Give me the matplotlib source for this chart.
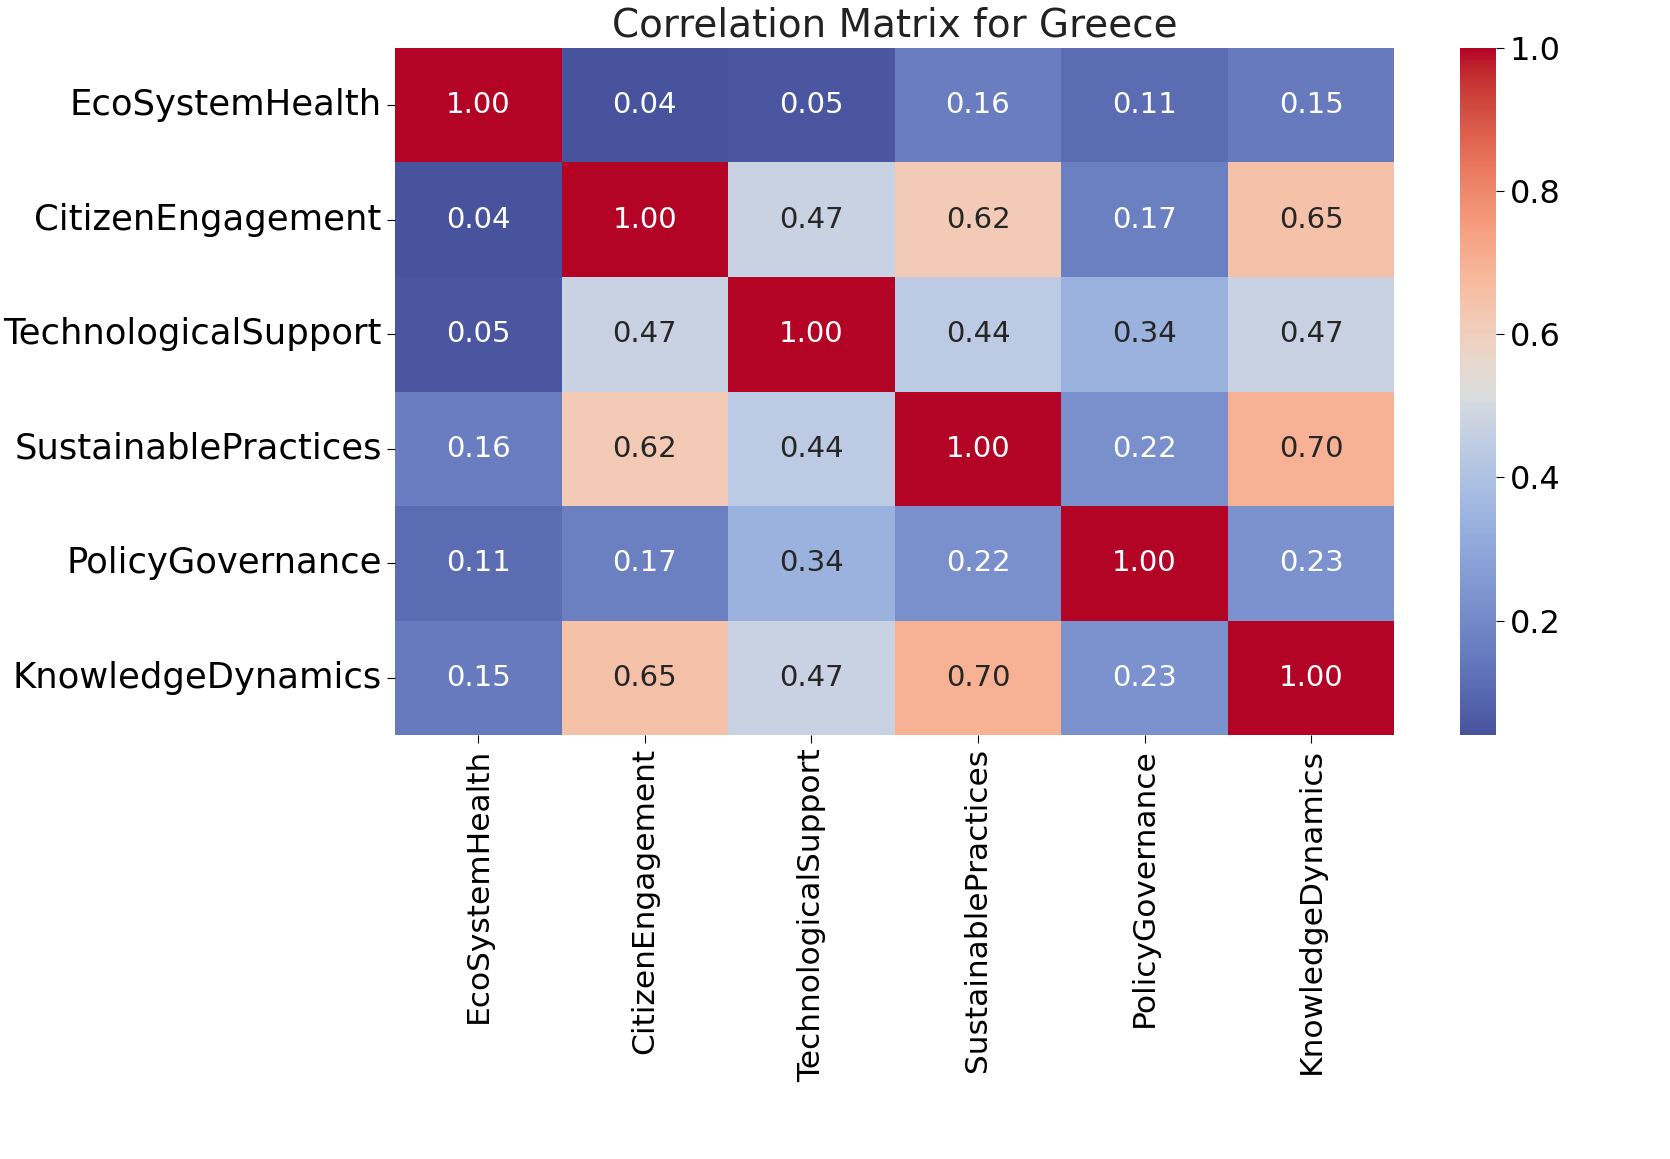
import numpy as np
import matplotlib
matplotlib.use("Agg")
import matplotlib.pyplot as plt
import matplotlib.colors as mcolors
import seaborn as sns

labels = ["EcoSystemHealth", "CitizenEngagement", "TechnologicalSupport",
          "SustainablePractices", "PolicyGovernance", "KnowledgeDynamics"]

row_eco = [1.00, 0.04, 0.05, 0.16, 0.11, 0.15]
row_cit = [0.04, 1.00, 0.47, 0.62, 0.17, 0.65]
row_tech = [0.05, 0.47, 1.00, 0.44, 0.34, 0.47]
row_sus = [0.16, 0.62, 0.44, 1.00, 0.22, 0.70]
row_pol = [0.11, 0.17, 0.34, 0.22, 1.00, 0.23]
row_know = [0.15, 0.65, 0.47, 0.70, 0.23, 1.00]

corr = np.array([row_eco, row_cit, row_tech, row_sus, row_pol, row_know])

# coolwarm, but with the blue half a bit muted like the reference
base = plt.get_cmap("coolwarm")(np.linspace(0, 1, 256))[:, :3]
hsv = mcolors.rgb_to_hsv(base)
w = np.clip((base[:, 2] - base[:, 0]) / 0.52, 0, 1)
hsv[:, 1] *= 1 - 0.22 * w
hsv[:, 2] *= 1 - 0.18 * w
cmap = mcolors.ListedColormap(mcolors.hsv_to_rgb(hsv))

fig = plt.figure(figsize=(16.7, 11.59), dpi=100)
ax = fig.add_axes([0.2365, 0.3658, 0.5985, 0.5928])
cax = fig.add_axes([0.874, 0.3658, 0.022, 0.5928])

sns.heatmap(corr, annot=True, fmt=".2f", cmap=cmap, ax=ax, cbar_ax=cax,
            xticklabels=labels, yticklabels=labels,
            annot_kws={"size": 21})

ax.set_title("Correlation Matrix for Greece", fontsize=28, pad=8, color="#222222")
ax.tick_params(axis="y", labelsize=25.5, length=6)
ax.tick_params(axis="x", labelsize=22.5, length=6)
plt.setp(ax.get_xticklabels(), rotation=90)
plt.setp(ax.get_yticklabels(), rotation=0)

cax.tick_params(labelsize=23, length=6)
cax.set_yticks([0.2, 0.4, 0.6, 0.8, 1.0])
cax.set_yticklabels(["0.2", "0.4", "0.6", "0.8", "1.0"])

fig.savefig("out.png", dpi=100)
